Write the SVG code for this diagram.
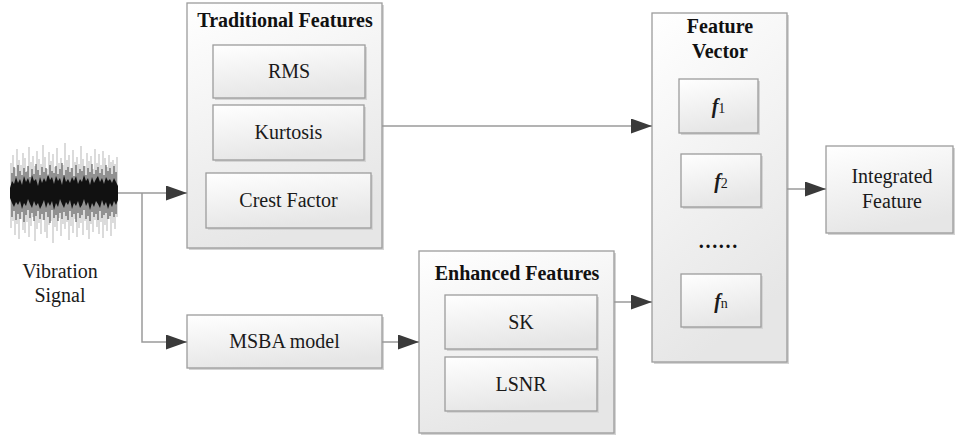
<svg xmlns="http://www.w3.org/2000/svg" width="955" height="437" viewBox="0 0 955 437">
<defs>
<linearGradient id="g" x1="0" y1="0" x2="0.3" y2="1">
<stop offset="0" stop-color="#ffffff"/>
<stop offset="1" stop-color="#e6e6e6"/>
</linearGradient>
<marker id="arr" markerUnits="userSpaceOnUse" markerWidth="21" markerHeight="15" refX="21" refY="7.5" orient="auto">
<path d="M0,0 L21,7.5 L0,15 z" fill="#3a3a3a"/>
</marker>
</defs>
<style>
.box{fill:url(#g);stroke:#9c9c9c;stroke-width:1.3}
.sh{fill:#d4d4d4;stroke:none}
.c{fill:none;stroke:#9a9a9a;stroke-width:1.5}
text{font-family:'Liberation Serif','Times New Roman',Times,serif;font-size:20px;fill:#1a1a1a;text-anchor:middle}
.b{font-weight:bold;fill:#111}
.fi{font-weight:bold;font-style:italic}
.sub{font-size:14px}
</style>
<rect width="955" height="437" fill="#ffffff"/>

<g id="vibration-signal">
<path fill="none" stroke="#c4c4c4" stroke-width="1.2" d="M11 163V228M13 155V221M15 168V235M17 149V224M19 160V239M21 165V219M23 153V230M25 158V233M27 171V222M29 147V237M31 162V226M33 156V217M35 166V241M37 151V229M39 159V223M41 164V234M43 145V220M45 157V232M47 169V238M49 152V225M51 161V221M53 154V243M55 167V227M57 148V231M59 163V218M61 158V236M63 165V224M65 143V229M67 160V222M69 155V240M71 168V226M73 150V233M75 162V219M77 157V237M79 164V228M81 146V223M83 159V235M85 166V221M87 153V230M89 161V239M91 156V224M93 169V232M95 149V220M97 163V227M99 154V234M101 165V222M103 151V238M105 158V225M107 167V231M109 155V219M111 162V236M113 160V223M115 164V229M117 157V217"/>
<path fill="none" stroke="#404040" stroke-opacity="0.8" stroke-width="1.2" d="M12 173V217M14 167V211M16 176V220M18 165V214M20 171V219M22 175V212M24 168V222M26 172V215M28 166V210M30 177V218M32 169V213M34 174V221M36 164V216M38 170V211M40 175V219M42 167V214M44 172V220M46 168V212M48 176V217M50 165V223M52 171V210M54 173V218M56 166V215M58 174V221M60 169V213M62 163V219M64 175V212M66 170V216M68 167V220M70 172V211M72 168V217M74 176V214M76 165V222M78 173V213M80 169V218M82 171V215M84 166V210M86 175V219M88 168V216M90 172V221M92 164V212M94 174V217M96 170V214M98 167V220M100 173V211M102 169V218M104 175V215M106 165V213M108 171V219M110 168V216M112 174V212M114 166V217M116 172V214"/>
<polygon fill="#111111" points="10,188 12,181 14,184 16,177 18,183 20,179 22,185 24,176 26,182 28,178 30,184 32,175 34,181 36,179 38,186 40,177 42,183 44,178 46,182 48,174 50,180 52,177 54,184 56,176 58,181 60,178 62,185 64,175 66,182 68,179 70,183 72,177 74,181 76,176 78,184 80,179 82,182 84,175 86,181 88,178 90,185 92,177 94,183 96,179 98,176 100,182 102,178 104,184 106,177 108,181 110,179 112,183 114,178 116,182 118,186 118,200 116,205 114,201 112,207 110,203 108,209 106,202 104,206 102,200 100,208 98,204 96,201 94,207 92,203 90,210 88,202 86,206 84,199 82,205 80,208 78,201 76,206 74,203 72,209 70,200 68,205 66,202 64,208 62,204 60,199 58,207 56,203 54,210 52,201 50,206 48,202 46,208 44,200 42,205 40,209 38,203 36,206 34,201 32,208 30,204 28,199 26,206 24,203 22,209 20,201 18,205 16,202 14,207 12,203 10,198"/>
<text x="60" y="278">Vibration</text>
<text x="60" y="302">Signal</text>
</g>

<g id="traditional-features">
<rect class="sh" x="189" y="5" width="195" height="245"/>
<rect class="box" x="187" y="3" width="195" height="245"/>
<text class="b" x="285" y="27">Traditional Features</text>
</g>
<g id="rms">
<rect class="sh" x="215" y="47" width="152" height="53"/>
<rect class="box" x="213" y="45" width="152" height="53"/>
<text x="289" y="78">RMS</text>
</g>
<g id="kurtosis">
<rect class="sh" x="215" y="107" width="151" height="55"/>
<rect class="box" x="213" y="105" width="151" height="55"/>
<text x="288.5" y="139">Kurtosis</text>
</g>
<g id="crest-factor">
<rect class="sh" x="208" y="175" width="165" height="55"/>
<rect class="box" x="206" y="173" width="165" height="55"/>
<text x="288.5" y="207">Crest Factor</text>
</g>

<g id="msba-model">
<rect class="sh" x="189" y="317" width="195" height="53"/>
<rect class="box" x="187" y="315" width="195" height="53"/>
<text x="284.5" y="348">MSBA model</text>
</g>

<g id="enhanced-features">
<rect class="sh" x="421" y="253" width="195" height="182"/>
<rect class="box" x="419" y="251" width="195" height="182"/>
<text class="b" x="517" y="280">Enhanced Features</text>
</g>
<g id="sk">
<rect class="sh" x="447" y="297" width="152" height="54"/>
<rect class="box" x="445" y="295" width="152" height="54"/>
<text x="521" y="329">SK</text>
</g>
<g id="lsnr">
<rect class="sh" x="447" y="359" width="152" height="54"/>
<rect class="box" x="445" y="357" width="152" height="54"/>
<text x="521" y="391">LSNR</text>
</g>

<g id="feature-vector">
<rect class="sh" x="654" y="15" width="135" height="349"/>
<rect class="box" x="652" y="13" width="135" height="349"/>
<text class="b" x="720" y="33">Feature</text>
<text class="b" x="720" y="58">Vector</text>
<text class="b" x="718" y="248">……</text>
</g>
<g id="f1">
<rect class="sh" x="681" y="81" width="79" height="54"/>
<rect class="box" x="679" y="79" width="79" height="54"/>
<text x="718.5" y="113"><tspan class="fi">f</tspan><tspan class="sub">1</tspan></text>
</g>
<g id="f2">
<rect class="sh" x="683" y="156" width="80" height="53"/>
<rect class="box" x="681" y="154" width="80" height="53"/>
<text x="721" y="188"><tspan class="fi">f</tspan><tspan class="sub">2</tspan></text>
</g>
<g id="fn">
<rect class="sh" x="683" y="276" width="80" height="53"/>
<rect class="box" x="681" y="274" width="80" height="53"/>
<text x="721" y="308"><tspan class="fi">f</tspan><tspan class="sub">n</tspan></text>
</g>

<g id="integrated-feature">
<rect class="sh" x="828" y="148" width="127" height="87"/>
<rect class="box" x="826" y="146" width="127" height="87"/>
<text x="892" y="183">Integrated</text>
<text x="892" y="208">Feature</text>
</g>

<g id="connectors">
<path class="c" d="M118 193H187" marker-end="url(#arr)"/>
<path class="c" d="M142 193V342H187" marker-end="url(#arr)"/>
<path class="c" d="M382 126H652" marker-end="url(#arr)"/>
<path class="c" d="M382 342H419" marker-end="url(#arr)"/>
<path class="c" d="M614 302H652" marker-end="url(#arr)"/>
<path class="c" d="M787 189H826" marker-end="url(#arr)"/>
</g>
</svg>
